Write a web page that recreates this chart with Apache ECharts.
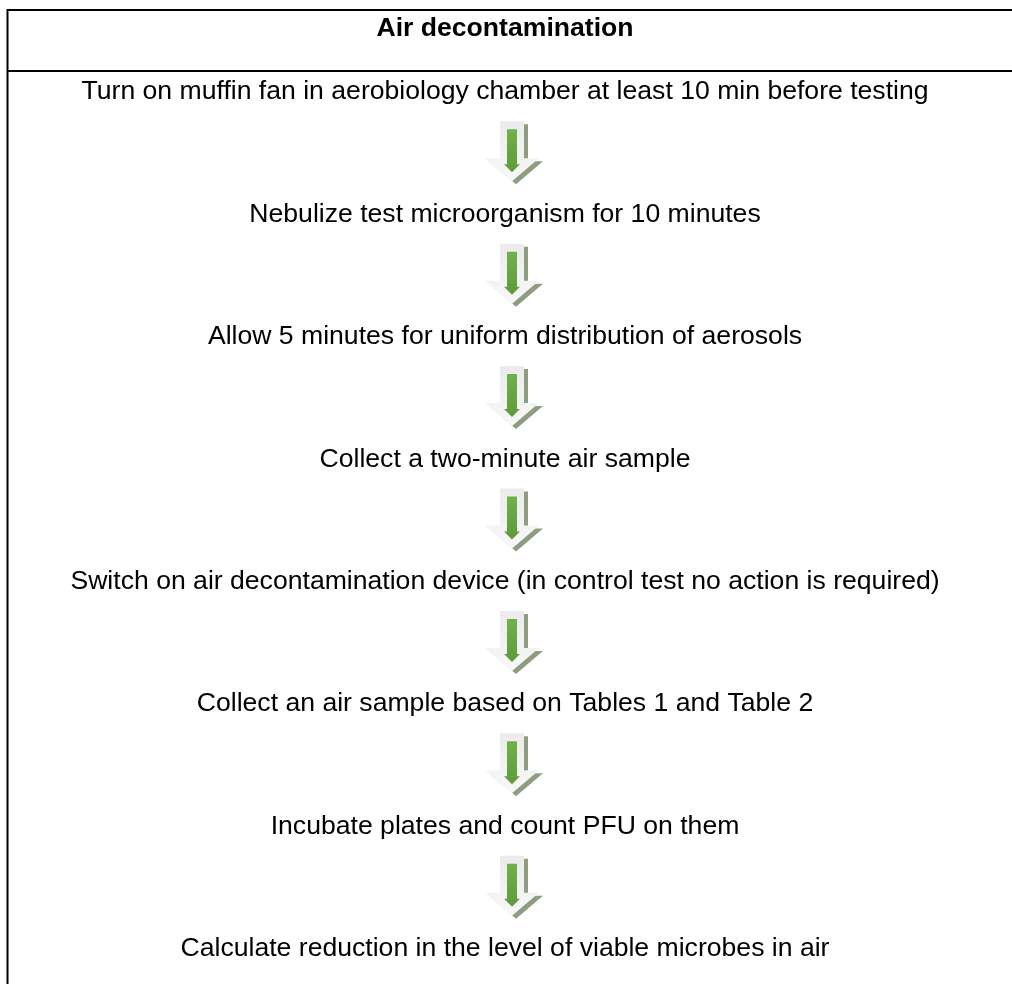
<!DOCTYPE html>
<html>
<head>
<meta charset="utf-8">
<script src="https://cdn.jsdelivr.net/npm/echarts@6/dist/echarts.min.js"></script>
<style>html,body{margin:0;padding:0;background:#fff}#c{width:1012px;height:985px}</style>
</head>
<body>
<div id="c"></div>
<script>
const chartTitle = "Air decontamination";
const steps = [
  "Turn on muffin fan in aerobiology chamber at least 10 min before testing",
  "Nebulize test microorganism for 10 minutes",
  "Allow 5 minutes for uniform distribution of aerosols",
  "Collect a two-minute air sample",
  "Switch on air decontamination device (in control test no action is required)",
  "Collect an air sample based on Tables 1 and Table 2",
  "Incubate plates and count PFU on them",
  "Calculate reduction in the level of viable microbes in air"
];
// connectors: arrow from step i to step i+1
const connectors = [[0,1],[1,2],[2,3],[3,4],[4,5],[5,6],[6,7]];

const FONT = '"Liberation Sans", Arial, sans-serif';
const chart = echarts.init(document.getElementById('c'));

const stepData = steps.map((s, i) => [0, i, s]);
const arrowData = connectors.map(c => [0, (c[0] + c[1]) / 2]);

function arrowPts(cx, cy, dx, dy) {
  const pts = [[-12,-30],[12,-30],[12,7],[27,7],[0,30],[-27,7],[-12,7]];
  return pts.map(p => [cx + p[0] + dx, cy + p[1] + dy]);
}

chart.setOption({
  animation: false,
  grid: { left: 0, right: 0, top: 90, bottom: 38 },
  xAxis: { type: 'value', min: -1, max: 1, show: false },
  yAxis: { type: 'value', min: 0, max: steps.length - 1, inverse: true, show: false },
  graphic: [
    { type: 'line', shape: { x1: 7, y1: 10, x2: 1012, y2: 10 }, style: { stroke: '#000', lineWidth: 2 } },
    { type: 'line', shape: { x1: 7, y1: 71, x2: 1012, y2: 71 }, style: { stroke: '#000', lineWidth: 2 } },
    { type: 'line', shape: { x1: 7.5, y1: 9, x2: 7.5, y2: 984 }, style: { stroke: '#000', lineWidth: 2 } },
    { type: 'text', x: 505, y: 29, style: { text: chartTitle, font: 'bold 26.6px ' + FONT, fill: '#000', textAlign: 'center', textVerticalAlign: 'middle' } }
  ],
  series: [
    {
      type: 'custom',
      data: arrowData,
      renderItem: function (params, api) {
        const p = api.coord([api.value(0), api.value(1)]);
        const cx = p[0] + 6, cy = p[1];
        return {
          type: 'group',
          children: [
            { type: 'polygon', shape: { points: arrowPts(cx, cy, 4, 3) }, style: { fill: '#8e9d80' } },
            { type: 'polygon', shape: { points: arrowPts(cx, cy, 0, 0) },
              style: { fill: new echarts.graphic.LinearGradient(0, 0, 0, 1, [
                { offset: 0, color: '#ebebeb' }, { offset: 1, color: '#f8f8f8' }]) } },
            { type: 'polygon', shape: { points: [
                [cx-5, cy-22],[cx+5, cy-22],[cx+5, cy+13],[cx+8, cy+13],[cx, cy+21],[cx-8, cy+13],[cx-5, cy+13]] },
              style: { fill: new echarts.graphic.LinearGradient(0, 0, 0, 1, [
                { offset: 0, color: '#72b04a' }, { offset: 1, color: '#5e9a3a' }]) } }
          ]
        };
      }
    },
    {
      type: 'custom',
      data: stepData,
      renderItem: function (params, api) {
        const p = api.coord([api.value(0), api.value(1)]);
        return {
          type: 'text',
          x: p[0] - 1, y: p[1] + 2,
          style: { text: steps[params.dataIndex], font: '26.6px ' + FONT, fill: '#000', textAlign: 'center', textVerticalAlign: 'middle' }
        };
      }
    }
  ]
});
</script>
</body>
</html>
